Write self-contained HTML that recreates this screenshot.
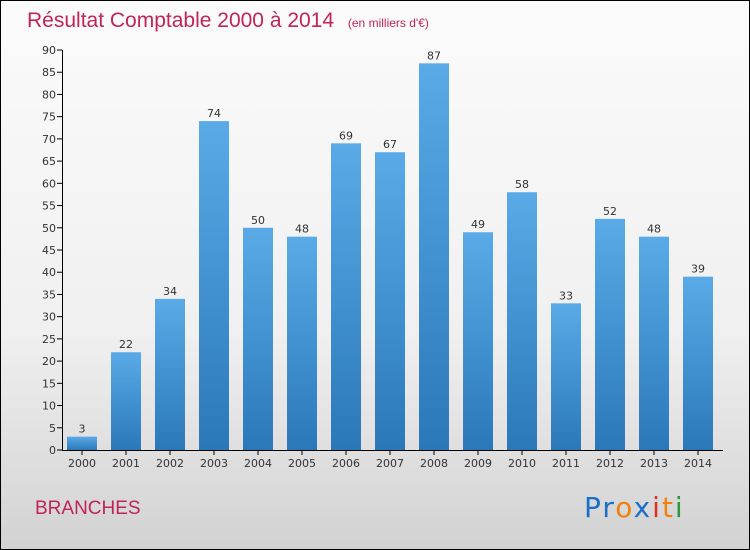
<!DOCTYPE html>
<html><head><meta charset="utf-8"><style>
body{margin:0}
#c{position:relative;width:748px;height:548px;border:1px solid #000;background:linear-gradient(#fbfbfb,#f0f0f0 60%,#d2d2d2);overflow:hidden;font-family:"DejaVu Sans","Liberation Sans",sans-serif}
</style></head><body>
<div id="c">
<svg width="748" height="548">
<defs><linearGradient id="g" x1="0" y1="0" x2="0" y2="1"><stop offset="0" stop-color="#5aaae8"/><stop offset="1" stop-color="#2a78b8"/></linearGradient></defs>
<text x="26" y="26" font-size="21" fill="#c0245a" font-family="Liberation Sans">Résultat Comptable 2000 à 2014 <tspan font-size="12" dx="8">(en milliers d'€)</tspan></text>
<g id="plot"></g>
<text x="34" y="513" font-size="19" fill="#c0245a" font-family="Liberation Sans">BRANCHES</text>
<text x="583" y="516" font-size="28" font-family="DejaVu Sans" letter-spacing="2"><tspan fill="#1a70c8">Pr</tspan><tspan fill="#f08010">o</tspan><tspan fill="#1a70c8">x</tspan><tspan fill="#e03020">i</tspan><tspan fill="#f08010">t</tspan><tspan fill="#2a9a3a">i</tspan></text>
</svg></div>
<script>
const years=["2000","2001","2002","2003","2004","2005","2006","2007","2008","2009","2010","2011","2012","2013","2014"];
const values=[3,22,34,74,50,48,69,67,87,49,58,33,52,48,39];
const yTicks=[0,5,10,15,20,25,30,35,40,45,50,55,60,65,70,75,80,85,90];
const NS="http://www.w3.org/2000/svg";
const g=document.getElementById('plot');
const y=v=>449-v*400/90;
const x=i=>81+i*44;
function mk(t,a,txt){const e=document.createElementNS(NS,t);for(const k in a)e.setAttribute(k,a[k]);if(txt!==undefined)e.textContent=txt;g.appendChild(e);return e;}
yTicks.forEach(t=>{
 const l=mk('line',{x1:56,x2:61,y1:y(t),y2:y(t),stroke:'#000'});
 
 
 const tx=mk('text',{x:55,y:y(t)+4,'font-size':11,fill:'#333','text-anchor':'end'},t);
 
 
});
values.forEach((v,i)=>{
 const r=mk('rect',{x:x(i)-15,y:y(v),width:30,height:y(0)-y(v),fill:'url(#g)'});
 
 
 const vl=mk('text',{x:x(i),y:y(v)-4,'font-size':11,fill:'#333','text-anchor':'middle'},v);
 
 
 const xl=mk('text',{x:x(i),y:466,'font-size':11,fill:'#333','text-anchor':'middle'},years[i]);
 
 
 const xt=mk('line',{x1:x(i),x2:x(i),y1:449,y2:454,stroke:'#000'});
 
 
});
const ya=mk('line',{x1:61.5,x2:61.5,y1:y(90),y2:449,stroke:'#000'});


const xa=mk('line',{x1:61,x2:722,y1:449.5,y2:449.5,stroke:'#000'});


</script>
</body></html>
